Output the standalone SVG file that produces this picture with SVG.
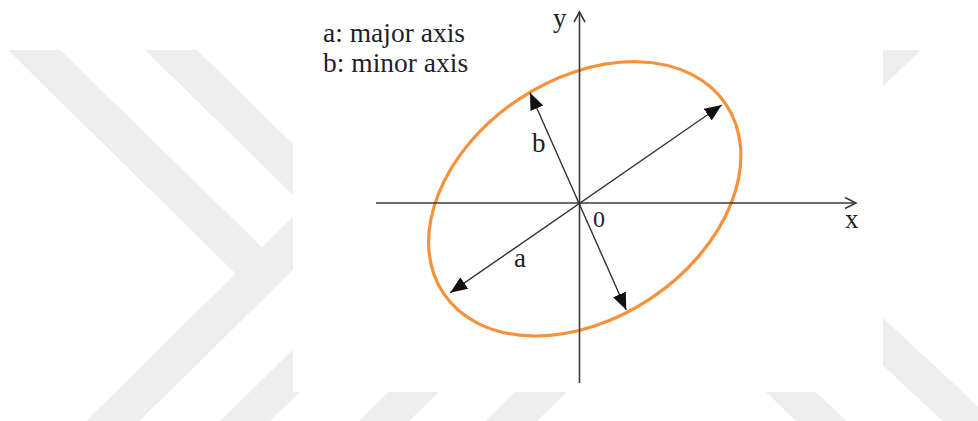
<svg xmlns="http://www.w3.org/2000/svg" width="978" height="421" viewBox="0 0 978 421">
  <defs>
    <style>
      .wm { fill: #eeeeee; }
      .axis { stroke: #3a3a3a; stroke-width: 1.6; fill: none; }
      .dim { stroke: #333333; stroke-width: 1.4; fill: none; marker-start: url(#tri); marker-end: url(#tri); }
      .ell { stroke: #f7923c; stroke-width: 3.2; fill: none; }
      .lbl { font-family: "Liberation Serif", "Times New Roman", serif; fill: #1f1f2a; }
    </style>
    <marker id="tri" viewBox="0 0 17 14" refX="17" refY="7" markerWidth="17" markerHeight="14" markerUnits="userSpaceOnUse" orient="auto-start-reverse">
      <path d="M0,0 L17,7 L0,14 Z" fill="#111111"/>
    </marker>
  </defs>
  <rect x="0" y="0" width="978" height="421" fill="#ffffff"/>
  <g id="watermark">
    <polygon class="wm" points="8,50 60,50 270,255 245,283"/>
    <polygon class="wm" points="310,200 364,200 130,430 77,430"/>
    <polygon class="wm" points="145,50 197,50 320,170.6 320,221.6"/>
    <polygon class="wm" points="343,300 393,300 261,430 211,430"/>
    <polygon class="wm" points="401,380 451,380 400,430 350,430"/>
    <polygon class="wm" points="527,380 579,380 528,430 476,430"/>
    <polygon class="wm" points="753.5,380 803.5,380 855.5,430 805.5,430"/>
    <polygon class="wm" points="813,300 864,300 1014,440 963,440"/>
    <polygon class="wm" points="871,50 921,50 821,145 771,145"/>
    <rect x="293" y="0" width="590" height="392" fill="#ffffff"/>
  </g>
  <g id="legend">
    <text class="lbl" x="323" y="42" font-size="27.5">a: major axis</text>
    <text class="lbl" x="323" y="72" font-size="27.5">b: minor axis</text>
  </g>
  <g id="ellipse">
    <ellipse class="ell" cx="584.75" cy="198.85" rx="170" ry="119.5" transform="rotate(-33.8 584.75 198.85)"/>
  </g>
  <g id="connectors">
    <line class="axis" x1="376" y1="203" x2="856" y2="203"/>
    <polyline class="axis" points="845,197.5 856,203 845,208.5"/>
    <line class="axis" x1="579.5" y1="383" x2="579.5" y2="12"/>
    <polyline class="axis" points="574,22 579.5,12 585,22"/>
    <line class="dim" x1="450.3" y1="292.7" x2="721.7" y2="105"/>
    <line class="dim" x1="626.3" y1="310" x2="530" y2="92.7"/>
  </g>
  <g id="labels">
    <text class="lbl" x="553" y="27" font-size="27">y</text>
    <text class="lbl" x="845" y="228" font-size="27">x</text>
    <text class="lbl" x="593" y="227" font-size="24">0</text>
    <text class="lbl" x="514" y="267" font-size="27">a</text>
    <text class="lbl" x="532" y="152" font-size="27">b</text>
  </g>
</svg>
